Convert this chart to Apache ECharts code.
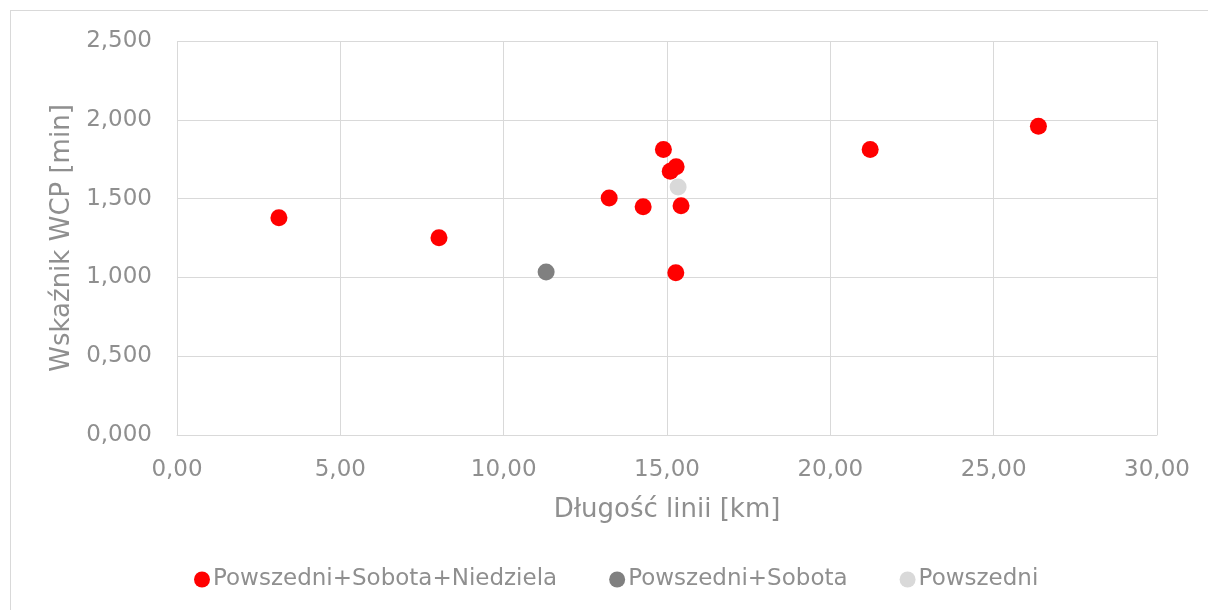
<!DOCTYPE html>
<html>
<head>
<meta charset="utf-8">
<script src="https://cdn.jsdelivr.net/npm/echarts@6/dist/echarts.min.js"></script>
<style>
  html, body { margin: 0; padding: 0; background: #fff; }
  #frame { position: absolute; left: 10px; top: 10px; width: 1220px; height: 620px; border: 1px solid #d9d9d9; box-sizing: border-box; }
  #chart { position: absolute; left: 0; top: 0; width: 1208px; height: 610px; }
</style>
</head>
<body>
<div id="frame"></div>
<div id="chart"></div>
<script>
// series data: [line length km, WCP index]
var seriesNames = ['Powszedni+Sobota+Niedziela', 'Powszedni+Sobota', 'Powszedni']
var seriesColors = ['#ff0000', '#808080', '#d9d9d9']
var allDaysX = [3.12, 8.02, 13.23, 14.27, 14.89, 15.10, 15.28, 15.43, 15.27, 21.22, 26.37]
var allDaysY = [1.378, 1.251, 1.504, 1.449, 1.812, 1.674, 1.702, 1.455, 1.029, 1.812, 1.959]
var weekSatX = [11.30]
var weekSatY = [1.034]
var weekdayX = [15.34]
var weekdayY = [1.574]

var pairs = function (xs, ys) {
  return xs.map(function (x, i) { return [x, ys[i]] })
}
var comma = function (v, d) {
  return v.toFixed(d).replace('.', ',')
}

var chart = echarts.init(document.getElementById('chart'))
var textColor = '#8f8f8f'
var font = 'DejaVu Sans'

var option = {
  animation: false,
  textStyle: { fontFamily: font },
  grid: { left: 177, right: 51, top: 41, bottom: 175 },
  legend: {
    top: 563,
    left: 189,
    itemGap: 52,
    itemWidth: 16,
    itemHeight: 16,
    icon: 'circle',
    textStyle: { color: textColor, fontSize: 23, fontFamily: font, padding: [0, 0, 0, -2] },
    data: seriesNames
  },
  xAxis: {
    type: 'value',
    min: 0,
    max: 30,
    interval: 5,
    name: 'Długość linii [km]',
    nameLocation: 'middle',
    nameGap: 62,
    nameTextStyle: { color: textColor, fontSize: 26, fontFamily: font },
    axisLine: { show: true, lineStyle: { color: '#d9d9d9' } },
    axisTick: { show: false },
    splitLine: { show: true, lineStyle: { color: '#d9d9d9' } },
    axisLabel: {
      color: textColor, fontSize: 23, margin: 24, fontFamily: font,
      formatter: function (v) { return comma(v, 2) }
    }
  },
  yAxis: {
    type: 'value',
    min: 0,
    max: 2.5,
    interval: 0.5,
    name: 'Wskaźnik WCP [min]',
    nameLocation: 'middle',
    nameGap: 102,
    nameTextStyle: { color: textColor, fontSize: 26, fontFamily: font },
    axisLine: { show: false },
    axisTick: { show: false },
    splitLine: { show: true, lineStyle: { color: '#d9d9d9' } },
    axisLabel: {
      color: textColor, fontSize: 23, margin: 25, fontFamily: font,
      formatter: function (v) { return comma(v, 3) }
    }
  },
  series: [
    {
      name: seriesNames[0],
      type: 'scatter',
      symbolSize: 17,
      itemStyle: { color: seriesColors[0], opacity: 1 },
      data: pairs(allDaysX, allDaysY)
    },
    {
      name: seriesNames[1],
      type: 'scatter',
      symbolSize: 17,
      itemStyle: { color: seriesColors[1], opacity: 1 },
      data: pairs(weekSatX, weekSatY)
    },
    {
      name: seriesNames[2],
      type: 'scatter',
      symbolSize: 17,
      itemStyle: { color: seriesColors[2], opacity: 1 },
      data: pairs(weekdayX, weekdayY)
    }
  ]
}
chart.setOption(option, true)
</script>
</body>
</html>
